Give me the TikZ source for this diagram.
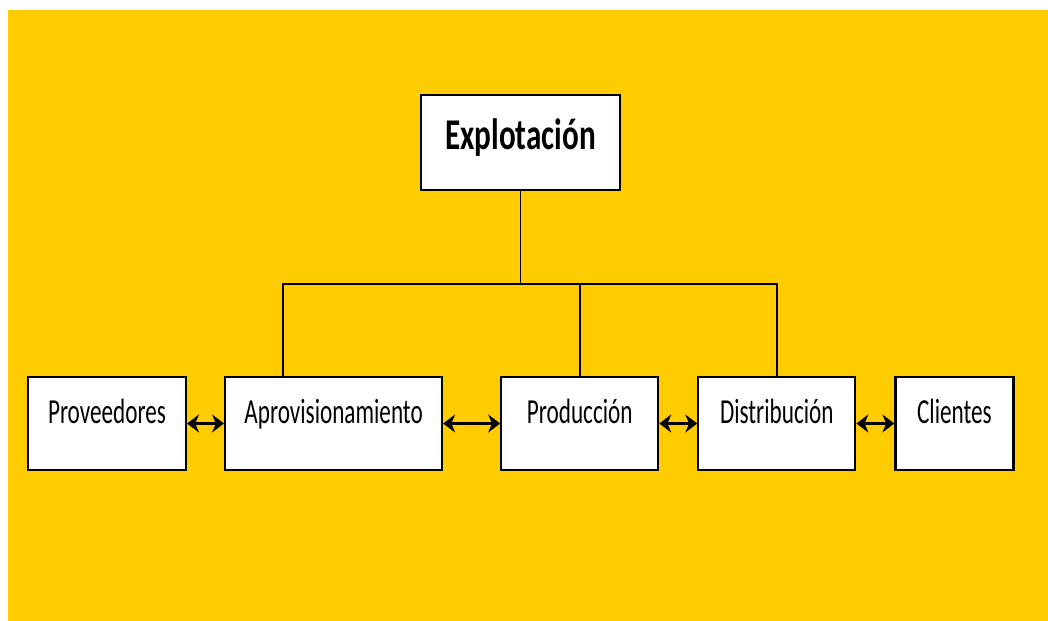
\documentclass[tikz,border=0pt]{standalone}
\usepackage{fontspec}
\setmainfont{Carlito}
\usepackage{tikz}
\usetikzlibrary{positioning}
\usetikzlibrary{calc}
\usetikzlibrary{arrows.meta}

\definecolor{fondo}{HTML}{FFCC00}
\newcommand{\narrow}[1]{\scalebox{0.66}[1]{#1}}
\newcommand{\narrowb}[1]{\scalebox{0.71}[1]{#1}}

\tikzset{
  area/.style={draw, fill=white, line width=1.2pt, minimum height=1.86cm,
    inner sep=0pt, font=\fontsize{20}{22}\selectfont,
    text height=0.46cm, text depth=0.46cm},
  jefe/.style={area, minimum width=3.98cm, minimum height=1.9cm,
    font=\fontsize{25}{28}\selectfont\bfseries,
    text height=0.56cm, text depth=0.26cm},
  flujo/.style={line width=1.6pt, {Stealth[length=2.4mm,width=3.6mm]}-{Stealth[length=2.4mm,width=3.6mm]}},
  rama/.style={line width=1pt}
}

\begin{document}
\begin{tikzpicture}

  % Background
  \fill[white] (0,0) rectangle (20.96,-12.42);
  \fill[fondo] (0.16,-0.2) rectangle (20.96,-12.42);
  \useasboundingbox (0,0) rectangle (20.96,-12.42);

  % Define nodes
  \node[jefe] (expl) at (10.41,-2.85) {\narrowb{Explotación}};
  \node[area, minimum width=3.16cm] (prov) at (2.14,-8.47) {\narrow{Proveedores}};
  \node[area, minimum width=4.34cm, right=0.74cm of prov] (aprov) {\narrow{Aprovisionamiento}};
  \node[area, minimum width=3.14cm, right=1.14cm of aprov] (prod) {\narrow{Producción}};
  \node[area, minimum width=3.14cm, right=0.76cm of prod] (dist) {\narrow{Distribución}};
  \node[area, minimum width=2.36cm, right=0.76cm of dist] (cli) {\narrow{Clientes}};

  % Tree
  \coordinate (hub) at ($(expl.south)+(0,-1.86)$);
  \coordinate (aprovtop) at ($(aprov.north west)+(1.18,0)$);
  \draw[rama] (expl.south) -- (hub);
  \draw[rama] (hub) -| (aprovtop);
  \draw[rama] (hub) -| (prod.north);
  \draw[rama] (hub) -| (dist.north);

  % Connect nodes
  \draw[flujo] (prov.east) -- (aprov.west);
  \draw[flujo] (aprov.east) -- (prod.west);
  \draw[flujo] (prod.east) -- (dist.west);
  \draw[flujo] (dist.east) -- (cli.west);

\end{tikzpicture}
\end{document}
